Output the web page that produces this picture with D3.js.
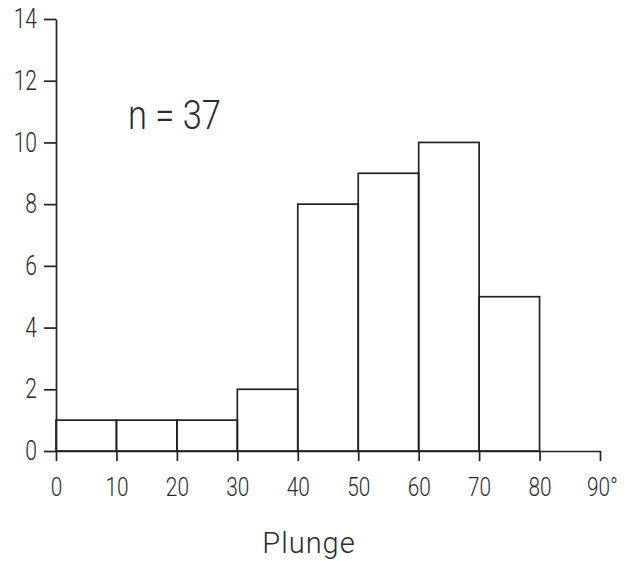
<!DOCTYPE html>
<html>
<head>
<meta charset="utf-8">
<script src="https://cdn.jsdelivr.net/npm/d3@7"></script>
<style>
  html, body { margin: 0; padding: 0; background: #ffffff; }
  svg { display: block; }
  text { font-family: Roboto, "Liberation Sans", sans-serif; font-weight: 300; fill: #2a2a2a; }
</style>
</head>
<body>
<svg id="chart" width="627" height="561"></svg>
<script>
// Plunge histogram: 10° bins, counts per bin
const binStarts = [0, 10, 20, 30, 40, 50, 60, 70];
const binWidth = 10;
const counts = [1, 1, 1, 2, 8, 9, 10, 5];
const xTicks = [0, 10, 20, 30, 40, 50, 60, 70, 80, 90];
const yTicks = [0, 2, 4, 6, 8, 10, 12, 14];
const xTitle = "Plunge";
const sampleLabel = "n = " + d3.sum(counts);

const ink = "#222";
const svg = d3.select("#chart");

const x = d3.scaleLinear().domain([0, 90]).range([56, 600]);
const y = d3.scaleLinear().domain([0, 14]).range([451, 19]);

// narrow technical lettering: squeeze glyphs horizontally
function condense(sel, factor) {
  sel.each(function () {
    const w = this.getComputedTextLength();
    d3.select(this).attr("textLength", w * factor).attr("lengthAdjust", "spacingAndGlyphs");
  });
}

// bars
svg.append("g")
  .selectAll("rect")
  .data(binStarts.map((s, i) => ({ s, c: counts[i] })))
  .join("rect")
  .attr("x", d => x(d.s))
  .attr("width", d => x(d.s + binWidth) - x(d.s))
  .attr("y", d => y(d.c))
  .attr("height", d => y(0) - y(d.c))
  .attr("fill", "none")
  .attr("stroke", ink)
  .attr("stroke-width", 1.7);

// y axis
const gy = svg.append("g")
  .attr("transform", `translate(${x(0)},0)`)
  .call(d3.axisLeft(y).tickValues(yTicks).tickSize(12).tickSizeOuter(0).tickPadding(7));

// x axis
const gx = svg.append("g")
  .attr("transform", `translate(0,${y(0)})`)
  .call(d3.axisBottom(x).tickValues(xTicks).tickSize(10).tickSizeOuter(0).tickPadding(17)
    .tickFormat(d => d === 90 ? "90°" : String(d)));

[gx, gy].forEach(g => {
  g.selectAll("path, line").attr("stroke", ink).attr("stroke-width", 1.7);
  g.selectAll("text").attr("fill", "#2a2a2a")
    .style("font-family", "Roboto, 'Liberation Sans', sans-serif");
});
gx.selectAll("text").attr("font-size", 26);
gy.selectAll("text").attr("font-size", 27);
gx.selectAll("text").filter(d => d === 90).attr("dx", 2);
condense(gx.selectAll("text"), 0.8);
condense(gy.selectAll("text"), 0.78);

// axis title
svg.append("text")
  .attr("x", 309)
  .attr("y", 553)
  .attr("text-anchor", "middle")
  .attr("font-size", 29)
  .attr("letter-spacing", 1)
  .text(xTitle);

// sample size
const nLabel = svg.append("text")
  .attr("x", 128)
  .attr("y", 129)
  .attr("font-size", 41)
  .text(sampleLabel);
condense(nLabel, 0.84);
</script>
</body>
</html>
